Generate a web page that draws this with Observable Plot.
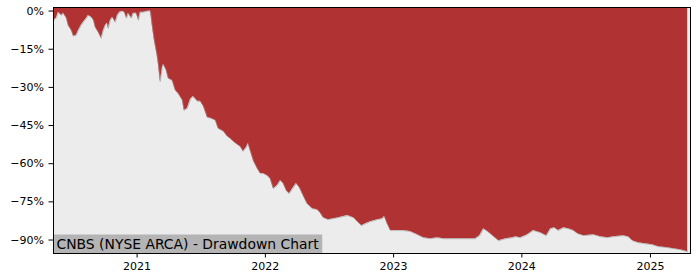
<!DOCTYPE html>
<html>
<head>
<meta charset="utf-8">
<script src="https://cdn.jsdelivr.net/npm/d3@7"></script>
<script src="https://cdn.jsdelivr.net/npm/@observablehq/plot@0.6"></script>
<style>
  html, body { margin: 0; padding: 0; background: #ffffff; }
  #chart svg { display: block; font-family: "DejaVu Sans", sans-serif; }
</style>
</head>
<body>
<div id="chart"></div>
<script>
const title = "CNBS (NYSE ARCA) - Drawdown Chart";
const dates = [
  "2020-05-09","2020-05-16","2020-05-22","2020-05-31","2020-06-05","2020-06-14","2020-06-19","2020-06-28",
  "2020-07-04","2020-07-12","2020-07-18","2020-07-26","2020-08-01","2020-08-10","2020-08-15","2020-08-24",
  "2020-08-30","2020-09-04","2020-09-13","2020-09-21","2020-09-27","2020-10-03","2020-10-08","2020-10-11",
  "2020-10-17","2020-10-23","2020-10-31","2020-11-06","2020-11-12","2020-11-20","2020-11-26","2020-12-02",
  "2020-12-07","2020-12-16","2020-12-21","2020-12-30","2021-01-05","2021-01-10","2021-01-19","2021-01-30",
  "2021-02-08","2021-02-13","2021-02-19","2021-02-27","2021-03-02","2021-03-08","2021-03-14","2021-03-17",
  "2021-03-25","2021-03-31","2021-04-11","2021-04-20","2021-04-28","2021-05-10","2021-05-15","2021-05-24",
  "2021-06-02","2021-06-10","2021-06-22","2021-06-30","2021-07-09","2021-07-20","2021-07-31","2021-08-12",
  "2021-08-20","2021-09-04","2021-09-15","2021-09-23","2021-10-02","2021-10-13","2021-10-22","2021-10-30",
  "2021-11-08","2021-11-13","2021-11-19","2021-11-28","2021-12-09","2021-12-18","2021-12-26","2022-01-07",
  "2022-01-15","2022-01-24","2022-02-04","2022-02-13","2022-02-21","2022-03-02","2022-03-10","2022-03-22",
  "2022-03-30","2022-04-08","2022-04-19","2022-04-30","2022-05-15","2022-05-29","2022-06-06","2022-06-15",
  "2022-06-29","2022-07-14","2022-07-28","2022-08-11","2022-08-23","2022-09-09","2022-09-23","2022-10-02",
  "2022-10-13","2022-10-27","2022-11-16","2022-11-30","2022-12-06","2022-12-14","2022-12-23","2023-01-12",
  "2023-01-29","2023-02-18","2023-03-10","2023-03-27","2023-04-16","2023-05-06","2023-05-23","2023-06-12",
  "2023-07-05","2023-07-25","2023-08-22","2023-09-03","2023-09-14","2023-09-26","2023-10-10","2023-10-27",
  "2023-11-16","2023-12-06","2023-12-14","2023-12-28","2024-01-17","2024-02-03","2024-02-23","2024-03-11",
  "2024-03-23","2024-04-03","2024-04-14","2024-04-29","2024-05-13","2024-05-27","2024-06-08","2024-06-25",
  "2024-07-23","2024-08-12","2024-09-01","2024-09-18","2024-10-16","2024-10-30","2024-11-11","2024-11-28",
  "2024-12-18","2025-01-07","2025-01-24","2025-02-19","2025-03-08","2025-03-27","2025-04-17"
];
const drawdown = [
  -3.6,-2.8,-0.5,-1.7,-0.9,-2.8,-5.6,-7.6,
  -9.9,-9.5,-7.6,-5.6,-4.4,-2.8,-1.7,-2.4,
  -3.6,-6.4,-8.4,-10.7,-7.6,-5.6,-4.8,-6.8,
  -3.6,-2.4,-4.4,-1.7,-0.5,-0.1,-0.5,-2.8,
  -0.9,-2.8,-0.9,-0.9,-3.6,-0.5,-0.5,-0.1,
  0,-5.6,-11.5,-17.4,-20.2,-27.7,-22.1,-21.0,
  -23.3,-26.5,-27.3,-31.2,-32.4,-35.1,-39.1,-38.3,
  -34.7,-33.6,-35.5,-35.5,-37.5,-41.8,-42.2,-43.0,
  -46.2,-47.3,-49.3,-50.1,-51.3,-52.5,-53.3,-55.2,
  -53.6,-52.1,-54.8,-58.8,-61.9,-63.9,-63.9,-64.7,
  -65.9,-69.8,-68.6,-66.6,-67.8,-70.6,-71.8,-69.4,
  -67.8,-69.4,-72.6,-75.7,-77.7,-78.1,-79.3,-81.2,
  -82.0,-81.6,-81.2,-80.8,-80.4,-81.2,-83.2,-84.4,
  -83.6,-82.8,-82.0,-81.6,-80.8,-83.6,-86.3,-86.3,
  -86.3,-86.7,-87.9,-89.1,-89.5,-89.1,-89.5,-89.5,
  -89.5,-89.5,-89.5,-88.3,-85.6,-86.7,-88.3,-90.3,
  -89.5,-89.1,-88.7,-89.1,-87.9,-86.3,-87.1,-88.3,
  -85.6,-85.2,-86.3,-85.2,-85.6,-86.3,-87.5,-88.3,
  -87.9,-88.7,-89.1,-88.7,-88.3,-88.7,-90.3,-91.1,
  -91.5,-91.9,-92.6,-93.0,-93.4,-93.8,-94.6
];
const yTicks = [0, -15, -30, -45, -60, -75, -90];
const yearTicks = [2021, 2022, 2023, 2024, 2025];
const xDomain = ["2020-05-08", "2025-04-25"];
const yDomain = [-95.3, 1.4];

const data = dates.map((d, i) => ({date: new Date(d), dd: drawdown[i]}));
const fmtPct = d => (d < 0 ? "\u2212" + Math.abs(d) : String(d)) + "%";

const chart = Plot.plot({
  width: 700,
  height: 280,
  marginLeft: 53,
  marginRight: 10,
  marginTop: 7,
  marginBottom: 27,
  style: {fontFamily: "DejaVu Sans, sans-serif", fontSize: "11px", color: "#000", background: "#fff"},
  x: {type: "utc", domain: xDomain.map(d => new Date(d))},
  y: {domain: yDomain},
  marks: [
    Plot.frame({fill: "#ececec"}),
    Plot.areaY(data, {x: "date", y1: yDomain[1], y2: "dd", fill: "#b03232"}),
    Plot.line(data, {x: "date", y: "dd", stroke: "#9a9a9a", strokeWidth: 0.6}),
    Plot.axisY({ticks: yTicks, tickFormat: fmtPct, tickSize: 4.5, tickPadding: 5, label: null, fontSize: 11}),
    Plot.axisX({ticks: yearTicks.map(y => new Date(Date.UTC(y, 0, 1))), tickFormat: "%Y", tickSize: 4.5, tickPadding: 4, label: null, fontSize: 11}),
    Plot.text([title], {text: d => d, frameAnchor: "bottom-left", dx: 3, dy: -5, fontSize: 13.9, fill: "#000", textAnchor: "start", lineAnchor: "bottom", className: "ddlabel"}),
    Plot.frame({stroke: "#000", strokeWidth: 1})
  ]
});
document.getElementById("chart").appendChild(chart);

// grey box behind the caption text, in SVG coordinates
const t = chart.querySelector(".ddlabel text");
if (t) {
  const sr = chart.getBoundingClientRect();
  const b = t.getBoundingClientRect();
  const left = 53;
  const top = b.top - sr.top - 1;
  const right = b.right - sr.left + 3;
  const bottom = 253;
  const r = document.createElementNS("http://www.w3.org/2000/svg", "rect");
  r.setAttribute("x", left);
  r.setAttribute("y", top);
  r.setAttribute("width", right - left);
  r.setAttribute("height", bottom - top);
  r.setAttribute("fill", "#b4b4b4");
  const g = chart.querySelector(".ddlabel");
  chart.insertBefore(r, g);
}
</script>
</body>
</html>
